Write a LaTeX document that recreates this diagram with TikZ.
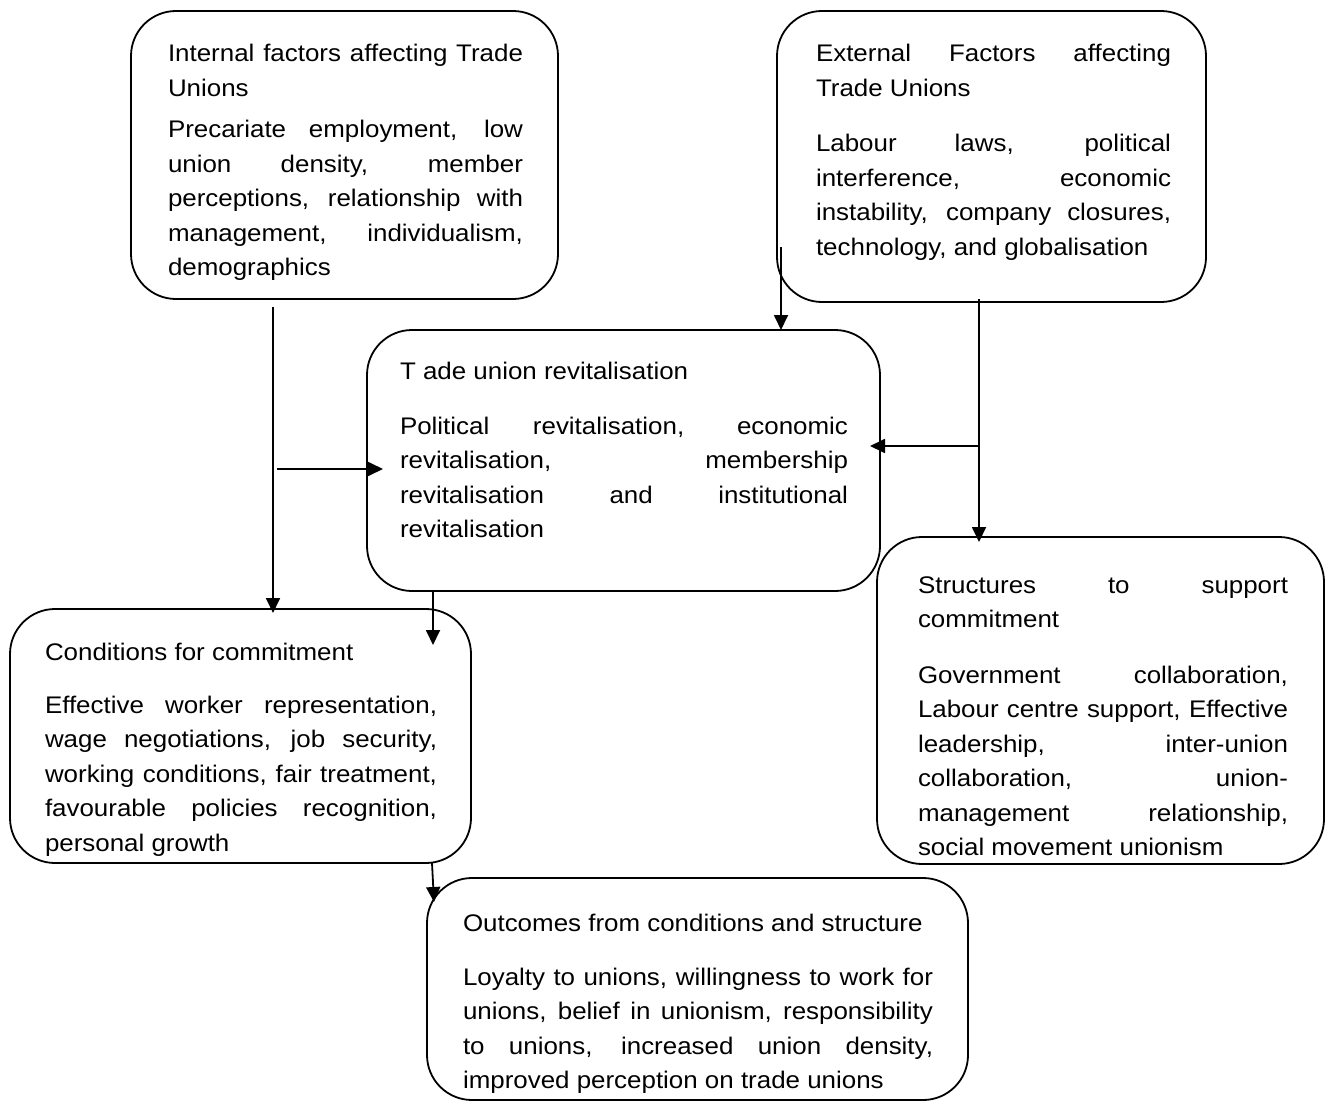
\documentclass[tikz,border=0pt]{standalone}
\usepackage{fontspec}
\setmainfont{Liberation Sans}[FakeStretch=1.08]
\usetikzlibrary{arrows.meta,calc}
\begin{document}
\hyphenpenalty=10000
\exhyphenpenalty=10000
\tolerance=10000
\begin{tikzpicture}[x=1pt,y=-1pt,
  box/.style={draw, line width=1.8pt, rounded corners=45pt, inner sep=0pt, outer sep=0pt},
  txt/.style={anchor=base west, inner sep=0pt, outer sep=0pt, align=justify,
    font=\fontsize{24}{34.5}\selectfont},
  arr/.style={line width=1.8pt, -{Triangle[length=15pt,width=14pt]}}]
\fill[white] (0,0) rectangle (1327,1102);
\useasboundingbox (0,0) rectangle (1327,1102);

% boxes
\node[box, minimum width=427pt, minimum height=288pt] (int) at (344.5,155) {};
\node[box, minimum width=429pt, minimum height=291pt] (ext) at (991.5,156.5) {};
\node[box, minimum width=513pt, minimum height=261pt] (rev) at (623.5,460.5) {};
\node[box, minimum width=461pt, minimum height=254pt] (cond) at (240.5,736) {};
\node[box, minimum width=447pt, minimum height=327pt] (str) at (1100.5,700.5) {};
\node[box, minimum width=541pt, minimum height=222pt] (out) at (697.5,989) {};

% texts
\node[txt, text width=355pt] (intT) at (168,62) {Internal factors affecting Trade\linebreak Unions};
\node[txt, text width=355pt] (intB) at (168,138) {Precariate employment, low\linebreak union density, member\linebreak perceptions, relationship with\linebreak management, individualism,\linebreak demographics};

\node[txt, text width=355pt] (extT) at (816,62) {External Factors affecting\linebreak Trade Unions};
\node[txt, text width=355pt] (extB) at (816,152) {Labour laws, political\linebreak interference, economic\linebreak instability, company closures,\linebreak technology, and globalisation};

\node[txt, text width=448pt] (revT) at (400,379) {T ade union revitalisation};
\node[txt, text width=448pt] (revB) at (400,434) {Political revitalisation, economic\linebreak revitalisation, membership\linebreak revitalisation and institutional\linebreak revitalisation};

\node[txt, text width=392pt] (condT) at (45,660) {Conditions for commitment};
\node[txt, text width=392pt] (condB) at (45,713) {Effective worker representation,\linebreak wage negotiations, job security,\linebreak working conditions, fair treatment,\linebreak favourable policies recognition,\linebreak personal growth};

\node[txt, text width=370pt] (strT) at (918,593) {Structures to support\linebreak commitment};
\node[txt, text width=370pt] (strB) at (918,683) {Government collaboration,\linebreak Labour centre support, Effective\linebreak leadership, inter-union\linebreak collaboration, union-\linebreak management relationship,\linebreak social movement unionism};

\node[txt, text width=470pt] (outT) at (463,931) {Outcomes from conditions and structure};
\node[txt, text width=470pt] (outB) at (463,985) {Loyalty to unions, willingness to work for\linebreak unions, belief in unionism, responsibility\linebreak to unions, increased union density,\linebreak improved perception on trade unions};

% connectors
\coordinate (a1) at (273,307);
\draw[arr] (a1) -- ($(a1 |- cond.north)+(0,4)$);
\coordinate (a2) at (277,469);
\draw[arr] (a2) -- ($(a2 -| rev.west)+(16,0)$);
\coordinate (a3) at (433,645);
\draw[arr] (a3 |- rev.south) -- (a3);
\coordinate (a4) at (781,247);
\draw[arr] (a4) -- (a4 |- rev.north);
\coordinate (a5) at (979,299);
\draw[arr] (a5) -- ($(a5 |- str.north)+(0,5)$);
\coordinate (a6) at (979,446);
\draw[arr] (a6) -- ($(a6 -| rev.east)+(-10,0)$);
\coordinate (a7) at (434,902);
\draw[arr] ($(a7 |- cond.south)+(-2,0)$) -- (a7);
\end{tikzpicture}
\end{document}
